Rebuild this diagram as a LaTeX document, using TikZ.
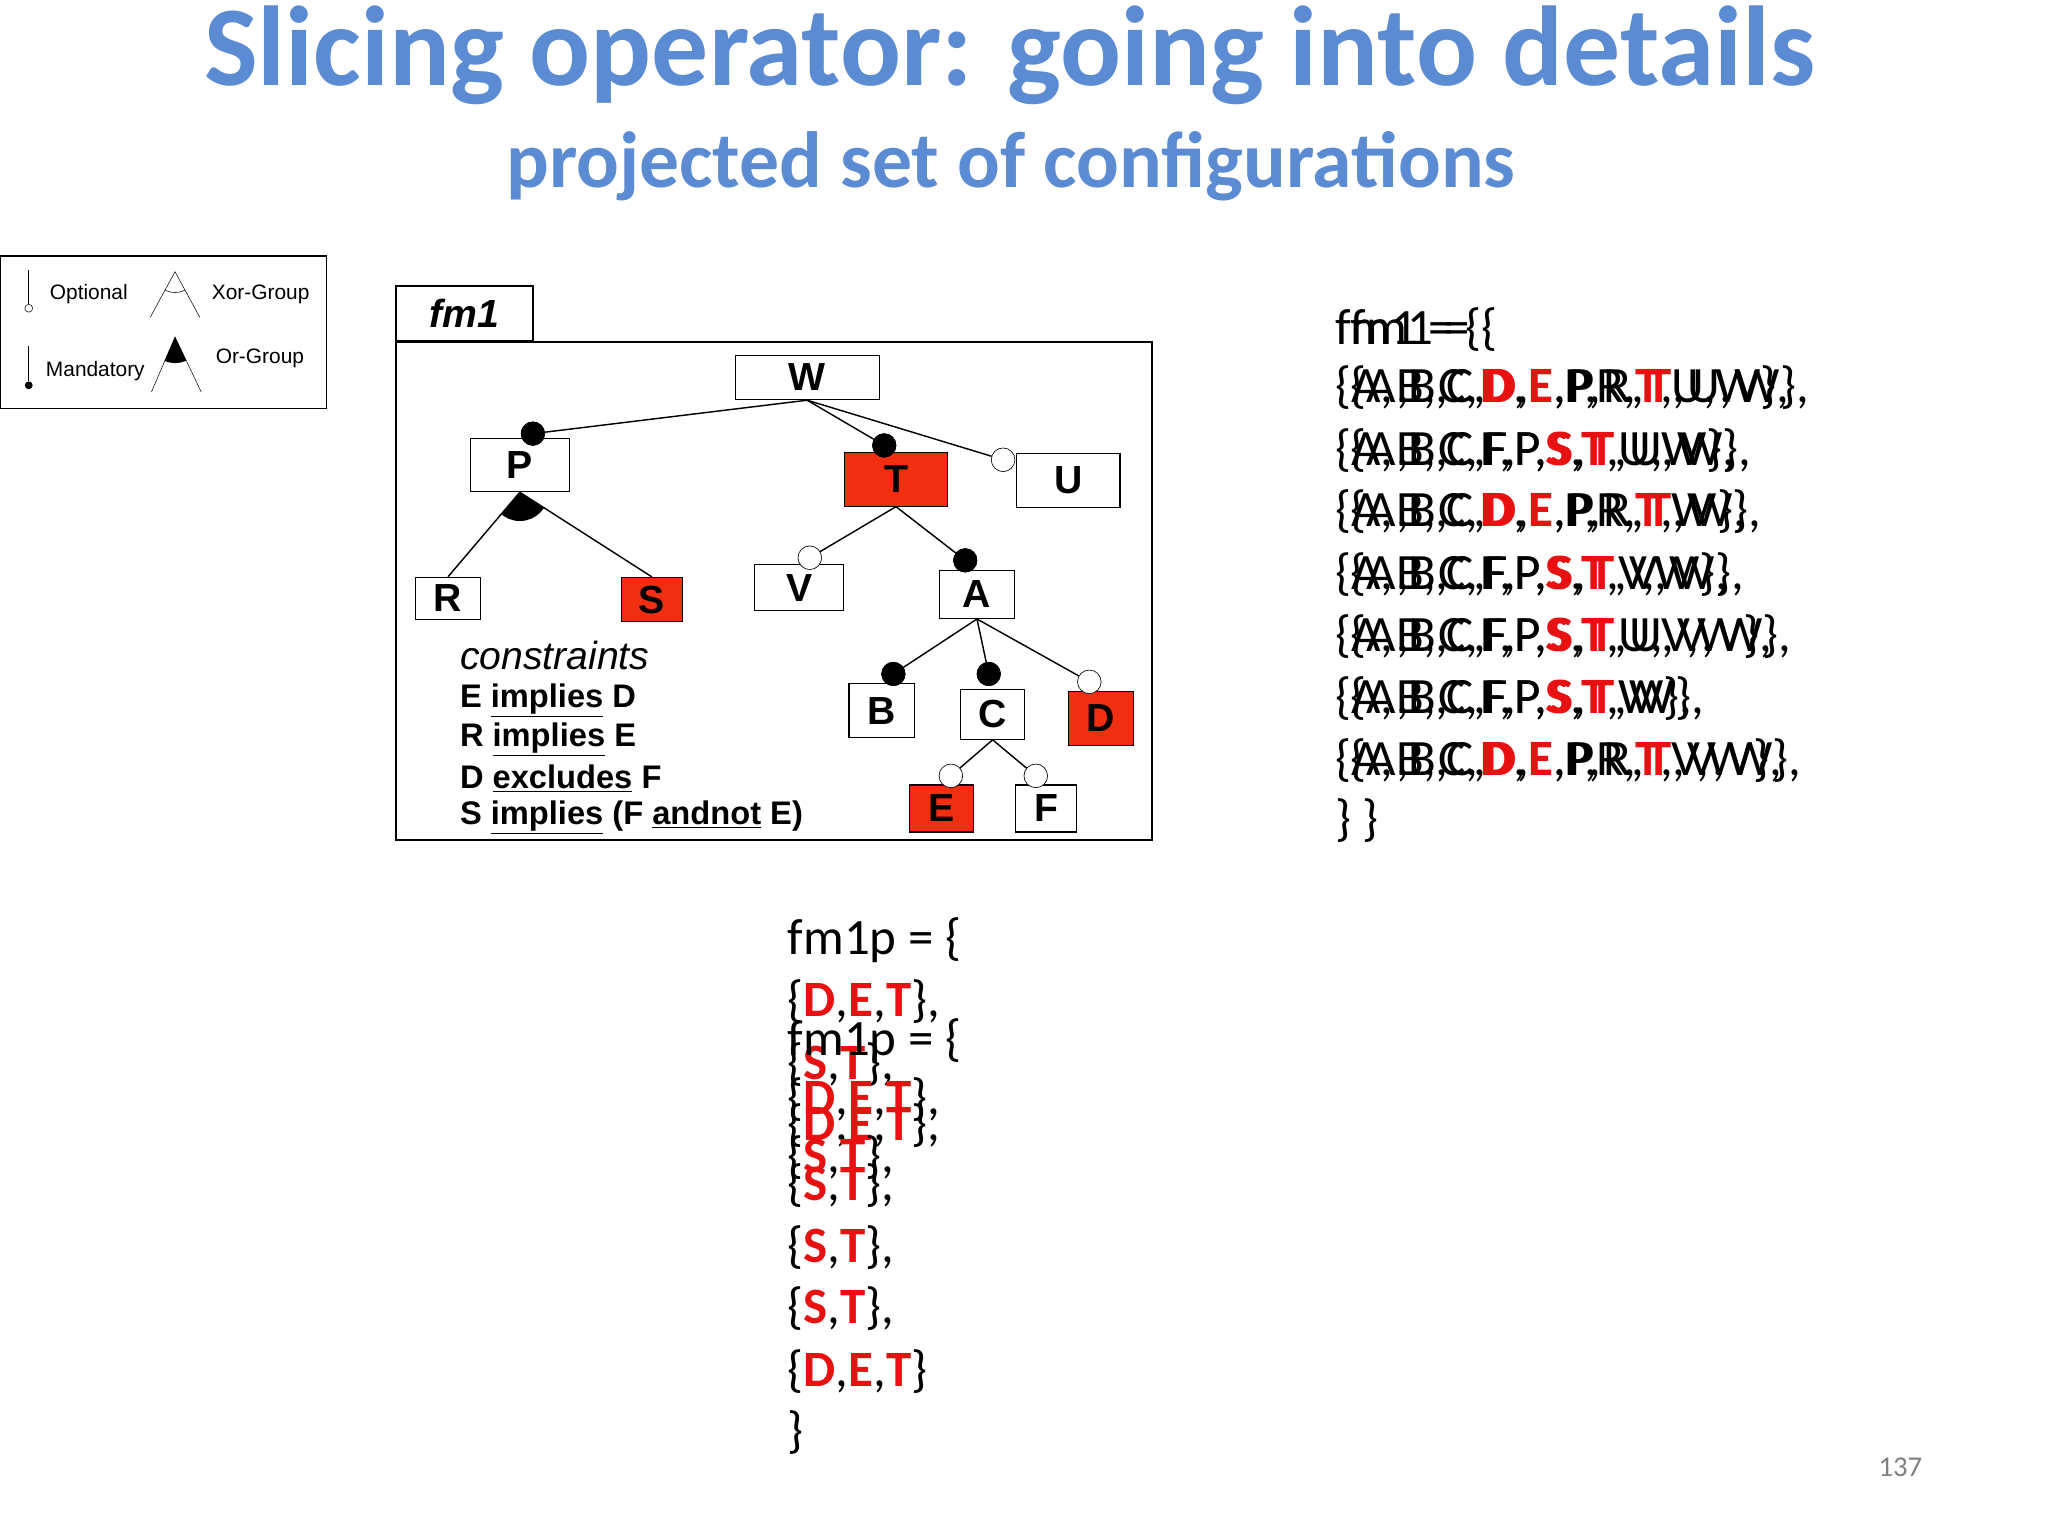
\documentclass[tikz,border=0pt]{standalone}
\usepackage{fontspec}
\setmainfont{Carlito}
\newfontfamily\arialf{Liberation Sans}
\usetikzlibrary{calc}
\definecolor{titleblue}{HTML}{5B8BD2}
\definecolor{boxred}{HTML}{F02E10}
\definecolor{txtred}{HTML}{E81010}
\newcommand{\rd}[1]{{\color{txtred}\bfseries #1}}
\tikzset{
  feat/.style={draw,thick,font=\arialf\bfseries\fontsize{30}{30}\selectfont,inner sep=0pt,anchor=center},
  redfeat/.style={feat,fill=boxred},
  mand/.style={circle,fill=black,draw=black,minimum size=18pt,inner sep=0pt},
  opt/.style={circle,fill=white,draw=black,minimum size=18pt,inner sep=0pt},
  txt/.style={anchor=west,inner sep=0pt,font=\fontsize{39}{39}\selectfont},
  cons/.style={anchor=west,inner sep=0pt,font=\arialf\bfseries\fontsize{25}{25}\selectfont},
  leg/.style={anchor=west,inner sep=0pt,font=\arialf\fontsize{16}{16}\selectfont},
  conn/.style={line width=1.1pt},
}
\begin{document}
\begin{tikzpicture}[x=1pt,y=-1pt]
\useasboundingbox (0,0) rectangle (1568,1176);
% titles
\node[text=titleblue,font=\bfseries\fontsize{87}{87}\selectfont] (title) at (773,42) {Slicing operator: going into details};
\node[text=titleblue,font=\bfseries\fontsize{61}{61}\selectfont] (sub) at (774,127) {projected set of configurations};
% legend
\draw[thick] (0,196) rectangle (250,313);
\coordinate (lo1) at (22,207); \node[draw,circle,inner sep=0pt,minimum size=6pt] (lo2) at (22,236) {};
\draw (lo1) -- (lo2);
\node[leg] (lopt) at (38,225) {Optional};
\coordinate (lm1) at (22,265); \node[fill,circle,inner sep=0pt,minimum size=6pt] (lm2) at (22,295) {};
\draw (lm1) -- (lm2);
\node[leg] (lman) at (35,284) {Mandatory};
\coordinate (xa) at (134,208); \coordinate (xl) at (115,243); \coordinate (xr) at (153,243);
\draw (xl) -- (xa) -- (xr);
\begin{scope}\clip (xa) -- (xl) -- (xr) -- cycle; \draw (xa) circle (16); \end{scope}
\node[leg] (lxor) at (162,225) {Xor-Group};
\coordinate (oa) at (134,258); \coordinate (ol) at (116,300); \coordinate (or) at (154,300);
\draw (ol) -- (oa) -- (or);
\begin{scope}\clip (oa) -- (ol) -- (or) -- cycle; \fill (oa) circle (20); \end{scope}
\node[leg] (lor) at (165,274) {Or-Group};
% fm1 frame
\draw[line width=1.8pt] (303,262) rectangle (882,643);
\node[draw,line width=1.8pt,minimum width=105pt,minimum height=42pt,inner sep=0pt,
  font=\arialf\bfseries\itshape\fontsize{30}{30}\selectfont] (fmtab) at (355.5,240) {fm1};
% features
\node[feat,minimum width=110pt,minimum height=34pt] (W) at (618,289) {W};
\node[feat,minimum width=76pt,minimum height=41pt] (P) at (398,356) {P};
\node[redfeat,minimum width=79pt,minimum height=41pt] (T) at (686,367) {T};
\node[feat,minimum width=79pt,minimum height=41pt] (U) at (818,368) {U};
\node[feat,minimum width=50pt,minimum height=32pt] (R) at (343,458) {R};
\node[redfeat,minimum width=47pt,minimum height=34pt] (S) at (499,459) {S};
\node[feat,minimum width=68pt,minimum height=35pt] (V) at (612,450) {V};
\node[feat,minimum width=58pt,minimum height=37pt] (A) at (748,455) {A};
\node[feat,minimum width=50pt,minimum height=42pt] (B) at (675,544) {B};
\node[feat,minimum width=49pt,minimum height=38pt] (C) at (760,547) {C};
\node[redfeat,minimum width=50pt,minimum height=41pt] (D) at (843,550) {D};
\node[redfeat,minimum width=49pt,minimum height=36pt] (E) at (721,619) {E};
\node[feat,minimum width=47pt,minimum height=36pt] (F) at (801,619) {F};
% connectors
\node[mand] (cP) at (408,332) {};
\node[mand] (cT) at (677,341) {};
\node[opt] (cU) at (768,352) {};
\node[opt] (cV) at (620,427) {};
\node[mand] (cA) at (739,429) {};
\node[mand] (cB) at (684,516) {};
\node[mand] (cC) at (757,516) {};
\node[opt] (cD) at (834,522) {};
\node[opt] (cE) at (728,594) {};
\node[opt] (cF) at (793,594) {};
\draw[conn] (W.south) -- (cP); \draw[conn] (W.south) -- (cT); \draw[conn] (W.south) -- (cU);
\draw[conn] (P.south) -- (R.north); \draw[conn] (P.south) -- (S.north);
\begin{scope}\clip (P.south) -- (R.north) -- (S.north) -- cycle; \fill (P.south) circle (22); \end{scope}
\draw[conn] (T.south) -- (cV); \draw[conn] (T.south) -- (cA);
\draw[conn] (A.south) -- (cB); \draw[conn] (A.south) -- (cC); \draw[conn] (A.south) -- (cD);
\draw[conn] (C.south) -- (cE); \draw[conn] (C.south) -- (cF);
% redraw circles on top
\node[mand] at (cP) {}; \node[mand] at (cT) {}; \node[opt] at (cU) {}; \node[opt] at (cV) {};
\node[mand] at (cA) {}; \node[mand] at (cB) {}; \node[mand] at (cC) {};
\node[opt] at (cD) {}; \node[opt] at (cE) {}; \node[opt] at (cF) {};
% constraints
\node[anchor=west,inner sep=0pt,font=\arialf\itshape\fontsize{30}{30}\selectfont] (ct) at (352,502) {constraints};
\node[cons] (c1) at (352,536) {E \underline{implies} D};
\node[cons] (c2) at (352,566) {R \underline{implies} E};
\node[cons] (c3) at (352,596) {D \underline{excludes} F};
\node[cons] (c4) at (352,626) {S \underline{implies} (F \underline{andnot} E)};
% fm1 sets (two overlapping copies)
\foreach \dx/\nm/\sp in {0/a/{\kern2pt},12/b/{\kern-1pt}}{
\node[txt] (fmh\nm) at (1022+\dx,252) {fm1 = \{};
\node[txt] (s1\nm) at (1022+\dx,297) {\{A,\sp B,\sp C,\sp\rd{D},\sp\rd{E},\sp P,\sp R,\sp\rd{T},\sp U,\sp W\},};
\node[txt] (s2\nm) at (1022+\dx,345) {\{A,\sp B,\sp C,\sp F,\sp P,\sp\rd{S},\sp\rd{T},\sp U,\sp W\},};
\node[txt] (s3\nm) at (1022+\dx,392) {\{A,\sp B,\sp C,\sp\rd{D},\sp\rd{E},\sp P,\sp R,\sp\rd{T},\sp W\},};
\node[txt] (s4\nm) at (1022+\dx,440) {\{A,\sp B,\sp C,\sp F,\sp P,\sp\rd{S},\sp\rd{T},\sp V,\sp W\},};
\node[txt] (s5\nm) at (1022+\dx,487) {\{A,\sp B,\sp C,\sp F,\sp P,\sp\rd{S},\sp\rd{T},\sp U,\sp V,\sp W\},};
\node[txt] (s6\nm) at (1022+\dx,535) {\{A,\sp B,\sp C,\sp F,\sp P,\sp\rd{S},\sp\rd{T},\sp W\},};
\node[txt] (s7\nm) at (1022+\dx,582) {\{A,\sp B,\sp C,\sp\rd{D},\sp\rd{E},\sp P,\sp R,\sp\rd{T},\sp V,\sp W\},};
}
\node[txt] (fmend) at (1022,628) {\} \}};
% fm1p
\node[txt] (ph) at (603,720) {fm1p = \{};
\node[txt] (p1) at (603,767) {\{\rd{D},\rd{E},\rd{T}\},};
\node[txt] (p2) at (603,815) {\{\rd{S},\rd{T}\},};
\node[txt] (p3) at (603,862) {\{\rd{D},\rd{E},\rd{T}\},};
\node[txt] (p4) at (603,908) {\{\rd{S},\rd{T}\},};
\node[txt] (p5) at (603,955) {\{\rd{S},\rd{T}\},};
\node[txt] (p6) at (603,1002) {\{\rd{S},\rd{T}\},};
\node[txt] (p7) at (603,1050) {\{\rd{D},\rd{E},\rd{T}\}};
\node[txt] (pend) at (603,1097) {\}};
\node[txt] (qh) at (603,797) {fm1p = \{};
\node[txt] (q1) at (603,842) {\{\rd{D},\rd{E},\rd{T}\},};
\node[txt] (q2) at (603,886) {\{\rd{S},\rd{T}\},};
% page number
\node[text=gray,font=\fontsize{22}{22}\selectfont] (pg) at (1455,1123) {137};
\end{tikzpicture}
\end{document}
